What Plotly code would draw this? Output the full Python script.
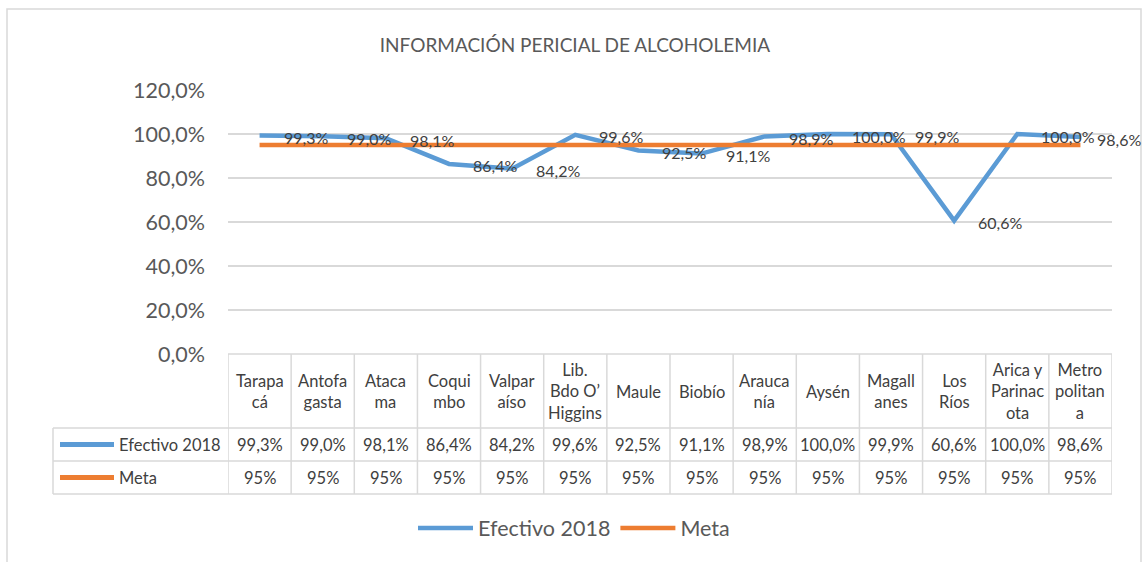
import plotly.graph_objects as go

categories = ["Tarapacá", "Antofagasta", "Atacama", "Coquimbo", "Valparaíso",
              "Lib. Bdo O’Higgins", "Maule", "Biobío", "Araucanía", "Aysén",
              "Magallanes", "Los Ríos", "Arica y Parinacota", "Metropolitana"]
category_labels = ["Tarapa<br>cá", "Antofa<br>gasta", "Ataca<br>ma", "Coqui<br>mbo",
                   "Valpar<br>aíso", "Lib.<br>Bdo O’<br>Higgins", "Maule", "Biobío",
                   "Arauca<br>nía", "Aysén", "Magall<br>anes", "Los<br>Ríos",
                   "Arica y<br>Parinac<br>ota", "Metro<br>politan<br>a"]
efectivo_2018 = [99.3, 99.0, 98.1, 86.4, 84.2, 99.6, 92.5, 91.1, 98.9, 100.0, 99.9, 60.6, 100.0, 98.6]
meta = [95, 95, 95, 95, 95, 95, 95, 95, 95, 95, 95, 95, 95, 95]
y_tick_values = [0, 20, 40, 60, 80, 100, 120]
y_tick_labels = ["0,0%", "20,0%", "40,0%", "60,0%", "80,0%", "100,0%", "120,0%"]

BLUE = "#5B9BD5"
ORANGE = "#ED7D31"
GRID = "#D9D9D9"
TXT = "#404040"
FONT = "Lato"

W, H = 1143, 562
L, R, T, B = 228, 31, 90, 208
PW = W - L - R
PH = H - T - B


def px_y(y):
    return (H - B - y) / PH


def px_x(x):
    return (x - L) / PW


def fmt1(v):
    return f"{v:.1f}".replace(".", ",") + "%"


def fmt0(v):
    return f"{v:.0f}%"


fig = go.Figure()
fig.add_trace(go.Scatter(x=categories, y=efectivo_2018, mode="lines", name="Efectivo 2018",
                         line=dict(color=BLUE, width=4.5)))
fig.add_trace(go.Scatter(x=categories, y=meta, mode="lines", name="Meta",
                         line=dict(color=ORANGE, width=4.5)))

annotations = []
shapes = []

# data labels (Efectivo)
n = len(categories)
for i, (c, v) in enumerate(zip(categories, efectivo_2018)):
    annotations.append(dict(x=c, y=v, xref="x", yref="y", text=fmt1(v), showarrow=False,
                            xanchor="left", yanchor="middle",
                            xshift=(15 if i == n - 1 else 22), yshift=-2,
                            font=dict(family=FONT, size=16, color=TXT)))

# data table
TF = 16.5
row_top = px_y(354)
row1 = px_y(428)
row2 = px_y(461)
row3 = px_y(494)
left_edge = px_x(53)
for i, (c, lab) in enumerate(zip(categories, category_labels)):
    annotations.append(dict(x=c, y=px_y(391.5), xref="x", yref="paper", text=lab, showarrow=False,
                            xanchor="center", yanchor="middle",
                            font=dict(family=FONT, size=TF, color=TXT)))
    annotations.append(dict(x=c, y=px_y(444.5), xref="x", yref="paper", text=fmt1(efectivo_2018[i]),
                            showarrow=False, xanchor="center", yanchor="middle",
                            font=dict(family=FONT, size=TF, color=TXT)))
    annotations.append(dict(x=c, y=px_y(477.5), xref="x", yref="paper", text=fmt0(meta[i]),
                            showarrow=False, xanchor="center", yanchor="middle",
                            font=dict(family=FONT, size=TF, color=TXT)))

line_style = dict(color=GRID, width=1.5)
# vertical lines of category columns
for k in range(n + 1):
    shapes.append(dict(type="line", xref="x", yref="paper", x0=k - 0.5, x1=k - 0.5,
                       y0=row_top, y1=row3, line=line_style, layer="below"))
# horizontal lines
shapes.append(dict(type="line", xref="paper", yref="paper", x0=0, x1=1, y0=row_top, y1=row_top,
                   line=line_style, layer="below"))
for yy in (row1, row2, row3):
    shapes.append(dict(type="line", xref="paper", yref="paper", x0=left_edge, x1=1, y0=yy, y1=yy,
                       line=line_style, layer="below"))
shapes.append(dict(type="line", xref="paper", yref="paper", x0=left_edge, x1=left_edge,
                   y0=row1, y1=row3, line=line_style, layer="below"))

# row headers with legend keys
for name, color, yc in (("Efectivo 2018", BLUE, 444.5), ("Meta", ORANGE, 477.5)):
    shapes.append(dict(type="line", xref="paper", yref="paper", x0=px_x(60), x1=px_x(114),
                       y0=px_y(yc), y1=px_y(yc), line=dict(color=color, width=5)))
    annotations.append(dict(x=px_x(117), y=px_y(yc), xref="paper", yref="paper", text=name,
                            showarrow=False, xanchor="left", yanchor="middle",
                            font=dict(family=FONT, size=TF, color=TXT)))

# outer chart border
shapes.append(dict(type="rect", xref="paper", yref="paper", x0=px_x(7), x1=px_x(1141),
                   y0=px_y(570), y1=px_y(9), line=dict(color=GRID, width=1.5), layer="below"))

fig.update_layout(
    width=W, height=H,
    margin=dict(l=L, r=R, t=T, b=B),
    paper_bgcolor="white", plot_bgcolor="white",
    title=dict(text="INFORMACIÓN PERICIAL DE ALCOHOLEMIA", x=0.503, xref="container",
               xanchor="center", y=1 - 45 / H, yref="container", yanchor="middle",
               font=dict(family=FONT, size=19, color="#595959")),
    xaxis=dict(range=[-0.5, n - 0.5], showticklabels=False, showgrid=False, zeroline=False,
               showline=False, ticks=""),
    yaxis=dict(range=[0, 120], tickvals=y_tick_values, ticktext=y_tick_labels,
               showgrid=True, gridcolor=GRID, gridwidth=1.5, zeroline=False, showline=False,
               ticks="", ticklabelstandoff=22,
               tickfont=dict(family=FONT, size=21.5, color="#595959")),
    showlegend=True,
    legend=dict(orientation="h", x=px_x(574), xanchor="center", y=px_y(528), yanchor="middle",
                itemwidth=55, font=dict(family=FONT, size=21.5, color="#595959"),
                bgcolor="rgba(0,0,0,0)"),
    annotations=annotations,
    shapes=shapes,
)

fig.write_html("out.html", config={"displayModeBar": False},
               post_script="document.body.style.margin='0';")
